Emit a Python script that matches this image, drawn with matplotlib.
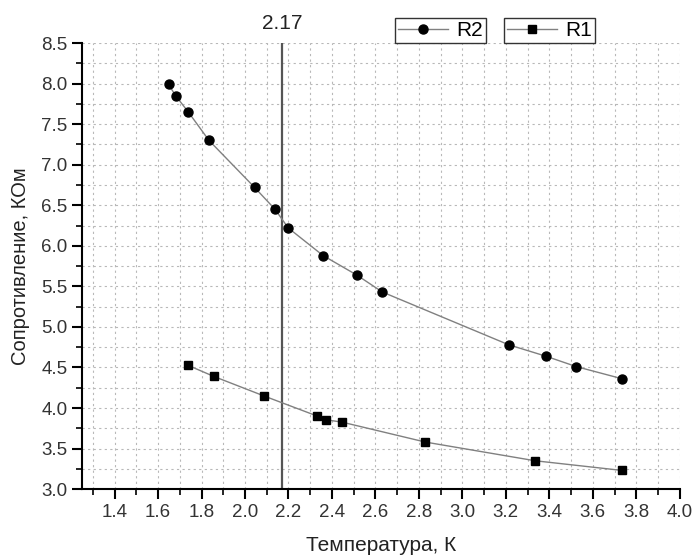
import matplotlib
matplotlib.use("Agg")
import matplotlib.pyplot as plt
import numpy as np
from matplotlib.ticker import MultipleLocator

plt.rcParams['font.family'] = ['Liberation Sans', 'DejaVu Sans']

# data
r2_t = [1.648, 1.681, 1.739, 1.834, 2.044, 2.138, 2.199, 2.359, 2.514, 2.632, 3.213, 3.383, 3.525, 3.736]
r2_r = [7.99, 7.85, 7.65, 7.30, 6.72, 6.45, 6.22, 5.88, 5.64, 5.43, 4.78, 4.64, 4.51, 4.36]
r1_t = [1.739, 1.856, 2.086, 2.333, 2.374, 2.448, 2.830, 3.334, 3.736]
r1_r = [4.525, 4.39, 4.15, 3.90, 3.855, 3.825, 3.58, 3.35, 3.23]
t_lambda = 2.17

fig = plt.figure(figsize=(6.95, 5.59), dpi=100)
ax = fig.add_axes([0.118, 0.125, 0.86, 0.798])

line_col = '#808080'
l2, = ax.plot(r2_t, r2_r, '-', color=line_col, lw=1.0, marker='o', ms=6.5,
              mfc='black', mec='black', label='R2', zorder=3)
l1, = ax.plot(r1_t, r1_r, '-', color=line_col, lw=1.0, marker='s', ms=6,
              mfc='black', mec='black', label='R1', zorder=3)

ax.axvline(t_lambda, color='#555555', lw=1.6, zorder=2)
ax.text(t_lambda, 8.62, '2.17', ha='center', va='bottom', fontsize=15, color='#222222')

ax.set_xlim(1.25, 4.0)
ax.set_ylim(3.0, 8.5)
ax.xaxis.set_minor_locator(MultipleLocator(0.1))
ax.yaxis.set_major_locator(MultipleLocator(0.5))
ax.yaxis.set_minor_locator(MultipleLocator(0.25))
ax.set_xticks(np.arange(1.4, 4.01, 0.2))
ax.xaxis.set_major_formatter(plt.FuncFormatter(lambda v, p: f'{v:.1f}'))
ax.yaxis.set_major_formatter(plt.FuncFormatter(lambda v, p: f'{v:.1f}'))

ax.grid(True, which='both', color='#b8b8b8', ls=(0, (2, 3)), lw=0.8, zorder=0)

for s in ['top', 'right']:
    ax.spines[s].set_visible(False)
for s in ['left', 'bottom']:
    ax.spines[s].set_linewidth(1.5)

ax.tick_params(which='major', direction='out', length=7, width=1.5, labelsize=13.5,
               labelcolor='#333333')
ax.tick_params(which='minor', direction='out', length=4, width=1.2)

ax.set_xlabel('Температура, К', fontsize=15, color='#222222', labelpad=11)
ax.set_ylabel('Сопротивление, КОм', fontsize=14.5, color='#222222', labelpad=8)

leg_kw = dict(frameon=True, fancybox=False, edgecolor='#333333', fontsize=15,
              handlelength=2.4, handletextpad=0.4, borderpad=0.15, framealpha=1,
              borderaxespad=0)
leg2 = fig.legend(handles=[l2], loc='lower left', bbox_to_anchor=(0.568, 0.923), **leg_kw)
leg1 = fig.legend(handles=[l1], loc='lower left', bbox_to_anchor=(0.725, 0.923), **leg_kw)
for lg in (leg1, leg2):
    lg.get_frame().set_linewidth(1.0)

fig.savefig('out.png', dpi=100)
